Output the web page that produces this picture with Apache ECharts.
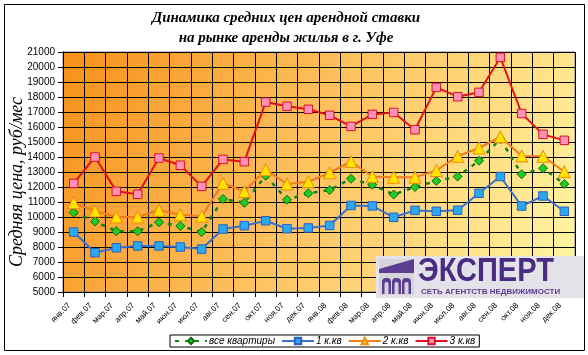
<!DOCTYPE html>
<html>
<head>
<meta charset="utf-8">
<script src="https://cdn.jsdelivr.net/npm/echarts@6/dist/echarts.min.js"></script>
<style>
html,body{margin:0;padding:0;background:#fff;}
#c{width:588px;height:355px;}
</style>
</head>
<body>
<div id="c"></div>
<script>
const categories = ['янв.07','фев.07','мар.07','апр.07','май.07','июн.07','июл.07','авг.07','сен.07','окт.07','ноя.07','дек.07',
  'янв.08','фев.08','мар.08','апр.08','май.08','июн.08','июл.08','авг.08','сен.08','окт.08','ноя.08','дек.08'];
const allFlats = [10300, 9700, 9050, 9050, 9650, 9400, 9000, 11200, 10950, 12750, 11150, 11580,
  11800, 12550, 12150, 11500, 12000, 12400, 12700, 13750, 15200, 12850, 13250, 12200];
const room1 = [9000, 7620, 7950, 8070, 8070, 8000, 7860, 9200, 9420, 9750, 9220, 9270,
  9440, 10770, 10740, 9980, 10440, 10380, 10450, 11580, 12700, 10730, 11400, 10380];
const room2 = [10950, 10400, 10000, 10000, 10450, 10150, 10050, 12250, 11700, 13150, 12200, 12350,
  12950, 13700, 12700, 12650, 12650, 13100, 14050, 14600, 15350, 14070, 14050, 13020];
const room3 = [12240, 14000, 11710, 11510, 13930, 13450, 12040, 13840, 13690, 17660, 17380, 17180,
  16780, 16040, 16840, 16970, 15820, 18640, 18020, 18310, 20640, 16900, 15510, 15110];
const seriesNames = ['все квартиры', '1 к.кв', '2 к.кв', '3 к.кв'];
const yMin = 5000, yMax = 21000, yStep = 1000;

const chart = echarts.init(document.getElementById('c'), null, {renderer: 'canvas'});
const purple = '#4a2c82';
const logoBg = '#e4e2e9';
chart.setOption({
  animation: false,
  backgroundColor: '#ffffff',
  grid: {
    left: 63, top: 52, width: 512, height: 240,
    show: true,
    backgroundColor: {type: 'linear', x: 0, y: 0, x2: 1, y2: 1,
      colorStops: [{offset: 0, color: '#f7901a'}, {offset: 0.5, color: '#fdc462'}, {offset: 1, color: '#fff8a6'}]},
    borderColor: '#808080', borderWidth: 1
  },
  xAxis: {
    type: 'category', data: categories, boundaryGap: true,
    axisLine: {lineStyle: {color: '#000', width: 1}},
    axisTick: {show: true, length: 5, lineStyle: {color: '#000'}},
    splitLine: {show: true, lineStyle: {color: '#000', width: 1}},
    axisLabel: {rotate: 45, interval: 0, fontSize: 8, fontFamily: 'Liberation Sans, Arial', color: '#000', margin: 8, padding: [0, 6, 0, 0]}
  },
  yAxis: {
    type: 'value', min: yMin, max: yMax, interval: yStep,
    axisLine: {show: true, lineStyle: {color: '#000', width: 1}},
    axisTick: {show: true, length: 5, lineStyle: {color: '#000'}},
    splitLine: {show: true, lineStyle: {color: '#000', width: 1}},
    axisLabel: {fontSize: 10, fontFamily: 'Liberation Sans, Arial', color: '#000', margin: 8, formatter: v => String(v)}
  },
  legend: {
    left: 170, top: 335, orient: 'horizontal',
    backgroundColor: '#fff', borderColor: '#000', borderWidth: 1,
    padding: [1, 4, 1, 4], itemGap: 6, itemWidth: 32, itemHeight: 8,
    textStyle: {fontSize: 10, fontStyle: 'italic', fontFamily: 'Liberation Sans, Arial', color: '#000', padding: [0, 0, 0, -3]},
    data: seriesNames
  },
  series: [
    {name: seriesNames[0], type: 'line', data: allFlats, z: 3,
      lineStyle: {color: '#1c7d1c', width: 2.5, type: [4, 6]},
      symbol: 'diamond', symbolSize: 9,
      itemStyle: {color: '#22cc22', borderColor: '#0b6a0b', borderWidth: 1}},
    {name: seriesNames[1], type: 'line', data: room1, z: 4,
      lineStyle: {color: '#3d6fd1', width: 2},
      symbol: 'rect', symbolSize: 8.5,
      itemStyle: {color: '#2aa8f0', borderColor: '#2f5fc0', borderWidth: 1}},
    {name: seriesNames[2], type: 'line', data: room2, z: 5,
      lineStyle: {color: '#f07c1e', width: 2},
      symbol: 'triangle', symbolSize: 12,
      itemStyle: {color: '#ffe400', borderColor: '#ee8a10', borderWidth: 1}},
    {name: seriesNames[3], type: 'line', data: room3, z: 6,
      lineStyle: {color: '#e3121c', width: 2},
      symbol: 'rect', symbolSize: 8.5,
      itemStyle: {color: '#ff92b4', borderColor: '#d8102a', borderWidth: 1}}
  ],
  graphic: [
    {type: 'rect', shape: {x: 4.5, y: 4.5, width: 580, height: 346}, style: {fill: 'none', stroke: '#000', lineWidth: 1}, z: 0, silent: true},
    {type: 'text', x: 286, y: 18, style: {text: 'Динамика средних цен арендной ставки', font: 'italic bold 15px "Liberation Serif", serif', fill: '#000', textAlign: 'center', textVerticalAlign: 'middle'}},
    {type: 'text', x: 286, y: 38, style: {text: 'на рынке аренды жилья в г. Уфе', font: 'italic bold 15px "Liberation Serif", serif', fill: '#000', textAlign: 'center', textVerticalAlign: 'middle'}},
    {type: 'text', x: 17, y: 182, rotation: Math.PI / 2, style: {text: 'Средняя цена, руб/мес', font: 'italic 18px "Liberation Serif", serif', fill: '#000', textAlign: 'center', textVerticalAlign: 'middle'}},
    {type: 'rect', z: 100, shape: {x: 376, y: 256, width: 208, height: 42}, style: {fill: logoBg}},
    {type: 'rect', z: 101, shape: {x: 379, y: 259, width: 35, height: 36}, style: {fill: '#d6d3dc'}},
    {type: 'polygon', z: 102, shape: {points: [[379, 269], [414, 259], [414, 273], [379, 273]]}, style: {fill: '#5b3d91'}},
    {type: 'rect', z: 102, shape: {x: 382, y: 278, width: 9, height: 16, r: [4, 4, 0, 0]}, style: {fill: '#5b3d91'}},
    {type: 'rect', z: 102, shape: {x: 392, y: 278, width: 9, height: 16, r: [4, 4, 0, 0]}, style: {fill: '#5b3d91'}},
    {type: 'rect', z: 102, shape: {x: 402, y: 278, width: 9, height: 16, r: [4, 4, 0, 0]}, style: {fill: '#5b3d91'}},
    {type: 'rect', z: 103, shape: {x: 384.5, y: 282, width: 4, height: 12, r: [2, 2, 0, 0]}, style: {fill: '#d6d3dc'}},
    {type: 'rect', z: 103, shape: {x: 394.5, y: 282, width: 4, height: 12, r: [2, 2, 0, 0]}, style: {fill: '#d6d3dc'}},
    {type: 'rect', z: 103, shape: {x: 404.5, y: 282, width: 4, height: 12, r: [2, 2, 0, 0]}, style: {fill: '#d6d3dc'}},
    {type: 'text', z: 104, x: 418, y: 272, scaleX: 0.88, style: {text: 'ЭКСПЕРТ', font: 'bold 33px "Liberation Sans", Arial', fill: purple, textAlign: 'left', textVerticalAlign: 'middle'}},
    {type: 'text', z: 104, x: 421, y: 292, style: {text: 'СЕТЬ АГЕНТСТВ НЕДВИЖИМОСТИ', font: 'bold 8px "Liberation Sans", Arial', fill: '#5a3c90', textAlign: 'left', textVerticalAlign: 'middle'}}
  ]
});
</script>
</body>
</html>
